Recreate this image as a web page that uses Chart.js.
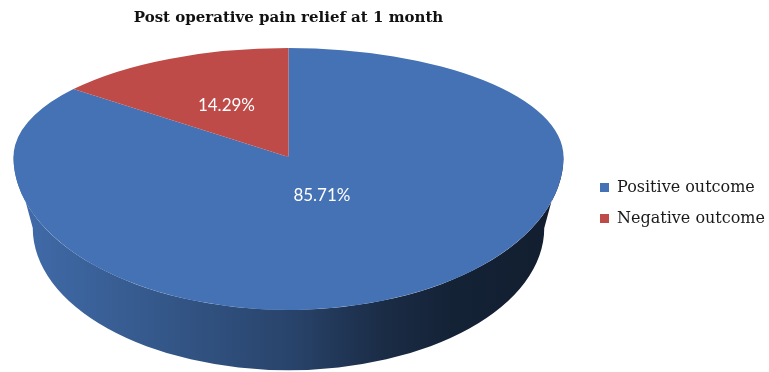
<!DOCTYPE html>
<html>
<head>
<meta charset="utf-8">
<script src="https://cdn.jsdelivr.net/npm/chart.js@4.4.0/dist/chart.umd.min.js"></script>
<style>
  html, body { margin: 0; padding: 0; background: #fff; overflow: hidden; }
  #wrap { width: 777px; height: 372px; margin-left: -8px; }
</style>
</head>
<body>
<div id="wrap"><canvas id="pizza"></canvas></div>
<script>
const outcomes = ["Positive outcome", "Negative outcome"];
const shares = [85.71, 14.29];
const sliceColors = ["#4472b4", "#be4b48"];

// 3D look: the top face is squashed less in front than behind (perspective),
// and a wall hangs under the front half
const tiltBack = 0.396;
const tiltFront = 0.556;
const depth = 71;
const lift = 46;          // apex sits above the middle of the chart area
const baseShrink = 0.93;  // bottom rim a bit narrower
const labelRadius = [0.28, 0.52];

function shade(hex, f) {
    const n = parseInt(hex.slice(1), 16);
    const r = Math.round(((n >> 16) & 255) * f);
    const g = Math.round(((n >> 8) & 255) * f);
    const b = Math.round((n & 255) * f);
    return "rgb(" + r + "," + g + "," + b + ")";
}

function squash(ctx, cx, cy, apexY, k) {
    ctx.translate(cx, apexY);
    ctx.scale(1, k);
    ctx.translate(-cx, -cy);
}

const pie3d = {
    id: 'pie3d',
    beforeDatasetsDraw(chart) {
        const ctx = chart.ctx;
        const arcs = chart.getDatasetMeta(0).data;
        if (!arcs.length) return;
        const cx = arcs[0].x, cy = arcs[0].y, R = arcs[0].outerRadius;
        const apexY = Math.round(cy - lift);
        const botY = apexY + depth;
        const rb = R * baseShrink;
        const TAU = Math.PI * 2;

        // wall: the piece of each slice that lies in the front half (0..PI)
        arcs.forEach((arc, i) => {
            const col = chart.data.datasets[0].backgroundColor[i];
            for (let k = -1; k <= 1; k++) {
                const s = Math.max(arc.startAngle, k * TAU);
                const e = Math.min(arc.endAngle, k * TAU + Math.PI);
                if (e <= s) continue;
                const grad = ctx.createLinearGradient(cx - R, 0, cx + R, 0);
                grad.addColorStop(0, shade(col, 0.95));
                grad.addColorStop(0.25, shade(col, 0.78));
                grad.addColorStop(0.5, shade(col, 0.6));
                grad.addColorStop(0.68, shade(col, 0.38));
                grad.addColorStop(0.8, shade(col, 0.3));
                grad.addColorStop(1, shade(col, 0.26));
                ctx.save();
                ctx.beginPath();
                ctx.ellipse(cx, apexY, R, R * tiltFront, 0, s, e, false);
                ctx.lineTo(cx + rb * Math.cos(e), botY + rb * tiltFront * Math.sin(e));
                ctx.ellipse(cx, botY, rb, rb * tiltFront, 0, e, s, true);
                ctx.closePath();
                ctx.fillStyle = grad;
                ctx.fill();
                ctx.restore();
            }
        });

        // back half of the top face is drawn by the chart itself
        ctx.save();
        ctx.beginPath();
        ctx.rect(0, 0, chart.width, apexY + 0.5);
        ctx.clip();
        squash(ctx, cx, cy, apexY, tiltBack);
    },
    afterDatasetsDraw(chart) {
        const ctx = chart.ctx;
        ctx.restore();
        const arcs = chart.getDatasetMeta(0).data;
        if (!arcs.length) return;
        const cx = arcs[0].x, cy = arcs[0].y, R = arcs[0].outerRadius;
        const apexY = Math.round(cy - lift);

        // front half of the top face
        ctx.save();
        ctx.beginPath();
        ctx.rect(0, apexY - 0.5, chart.width, chart.height);
        ctx.clip();
        squash(ctx, cx, cy, apexY, tiltFront);
        arcs.forEach(a => a.draw(ctx));
        ctx.restore();

        // percentage labels
        ctx.save();
        ctx.fillStyle = "#ffffff";
        ctx.font = "17px Lato";
        ctx.textAlign = "center";
        ctx.textBaseline = "middle";
        arcs.forEach((arc, i) => {
            const mid = (arc.startAngle + arc.endAngle) / 2;
            const sin = Math.sin(mid);
            const k = sin > 0 ? tiltFront : tiltBack;
            const f = labelRadius[i];
            const x = cx + f * R * Math.cos(mid);
            const y = apexY + f * R * k * sin;
            ctx.fillText(shares[i].toFixed(2) + "%", x, y);
        });
        ctx.restore();
    }
};

let pizza = new Chart(document.getElementById("pizza"), {
    type: 'pie',
    data: {
        labels: outcomes,
        datasets: [{
            data: shares,
            backgroundColor: sliceColors,
            borderWidth: 0,
            hoverOffset: 0,
            radius: 275
        }]
    },
    options: {
        responsive: true,
        maintainAspectRatio: false,
        animation: false,
        events: [],
        layout: { padding: { left: -18, right: -6, top: 0, bottom: 10 } },
        plugins: {
            legend: {
                position: 'right',
                fullSize: false,
                labels: {
                    boxWidth: 9,
                    boxHeight: 9,
                    padding: 15,
                    color: '#1a1a1a',
                    font: { family: '"DejaVu Serif", serif', size: 16 }
                }
            },
            title: {
                display: true,
                fullSize: false,
                text: "Post operative pain relief at 1 month",
                color: '#111',
                font: { family: '"DejaVu Serif", serif', size: 15, weight: 'bold' },
                padding: { top: 9, bottom: 17 }
            },
            tooltip: { enabled: false }
        }
    },
    plugins: [pie3d]
});
</script>
</body>
</html>
